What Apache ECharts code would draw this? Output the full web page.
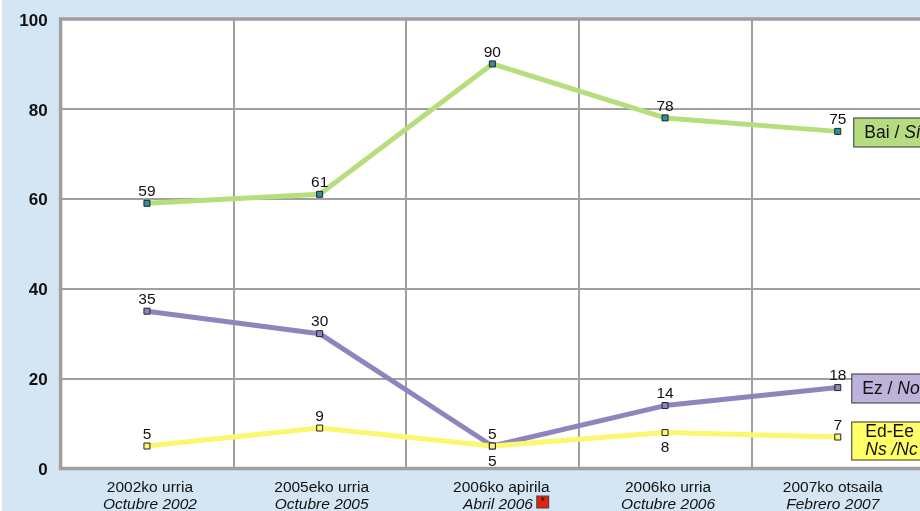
<!DOCTYPE html>
<html>
<head>
<meta charset="utf-8">
<style>
  html, body { margin: 0; padding: 0; background: #fff; overflow: hidden; }
  #chart { position: absolute; left: 2px; top: 0; width: 918px; height: 511px; }
</style>
<script src="https://cdn.jsdelivr.net/npm/echarts@6/dist/echarts.min.js"></script>
</head>
<body>
<div id="chart"></div>
<script>
const datesEu = ['2002ko urria', '2005eko urria', '2006ko apirila', '2006ko urria', '2007ko otsaila'];
const datesEs = ['Octubre 2002', 'Octubre 2005', 'Abril 2006', 'Octubre 2006', 'Febrero 2007'];
const yTicks = [0, 20, 40, 60, 80, 100];

const baiValues = [59, 61, 90, 78, 75];
const ezValues = [35, 30, 5, 14, 18];
const edValues = [5, 9, 5, 8, 7];
// yellow labels that sit under the point instead of over it
const edBelow = [2, 3];
// the original date labels are not centred on their points, px to the right
const dateShift = [3, 2, 9, 3, -5];

const font = '"Liberation Sans", Arial, sans-serif';
const chart = echarts.init(document.getElementById('chart'));

function makeSeries(name, values, color, markerColor, endLabel, below) {
    return {
        name: name,
        type: 'line',
        data: values.map((v, i) => ({
            value: v,
            label: below.includes(i)
                ? { position: 'bottom', distance: 4 }
                : { position: 'top', distance: 0 }
        })),
        symbol: 'rect',
        symbolSize: 6,
        itemStyle: { color: markerColor, borderColor: '#222', borderWidth: 1 },
        lineStyle: { color: color, width: 5 },
        label: {
            show: true,
            color: '#111',
            fontFamily: font,
            fontSize: 15.5
        },
        endLabel: endLabel
    };
}

// legend box glued to the last point, runs off the right edge like the original
function boxLabel(text, fill, dist, dy, padding) {
    return {
        show: true,
        formatter: text,
        distance: dist,
        offset: [0, dy],
        align: 'left',
        verticalAlign: 'middle',
        padding: padding,
        backgroundColor: fill,
        borderColor: '#333',
        borderWidth: 1,
        color: '#111',
        fontFamily: font,
        fontSize: 17.5,
        lineHeight: 18,
        rich: {
            it: { fontStyle: 'italic', fontFamily: font, fontSize: 17.5, lineHeight: 18, color: '#111' }
        }
    };
}

const option = {
    animation: false,
    backgroundColor: '#d4e6f4',
    grid: {
        show: true,
        outerBoundsMode: 'none',
        left: 58.6,
        top: 19,
        width: 863.5,
        height: 449.5,
        backgroundColor: '#fff',
        borderColor: '#a0a0a0',
        borderWidth: 3.5
    },
    xAxis: {
        type: 'category',
        data: datesEu.map((d, i) => ({
            value: d,
            textStyle: {
                padding: dateShift[i] > 0 ? [0, 0, 0, dateShift[i] * 2] : [0, -dateShift[i] * 2, 0, 0]
            }
        })),
        boundaryGap: true,
        axisLine: { show: false },
        axisTick: { show: false },
        splitLine: { show: true, interval: 0, lineStyle: { color: '#a0a0a0', width: 2 } },
        axisLabel: {
            interval: 0,
            margin: 11,
            color: '#111',
            fontFamily: font,
            fontSize: 15.5,
            lineHeight: 17,
            formatter: function (value, i) {
                let es = '{it|' + datesEs[i] + '}';
                if (i === 2) es = '  ' + es + ' {star|*}';
                return value + '\n' + es;
            },
            rich: {
                it: { fontStyle: 'italic', fontFamily: font, fontSize: 15.5, lineHeight: 17, color: '#111' },
                star: {
                    backgroundColor: '#e0230f',
                    borderColor: '#444',
                    borderWidth: 1,
                    width: 11,
                    height: 11,
                    align: 'center',
                    verticalAlign: 'top',
                    fontSize: 11,
                    lineHeight: 12,
                    color: '#111',
                    fontFamily: font
                }
            }
        }
    },
    yAxis: {
        type: 'value',
        min: 0,
        max: 100,
        interval: 20,
        axisLine: { show: false },
        axisTick: { show: false },
        splitLine: { show: true, lineStyle: { color: '#a0a0a0', width: 2 } },
        axisLabel: {
            margin: 13,
            color: '#111',
            fontFamily: font,
            fontSize: 17,
            fontWeight: 'bold',
            customValues: yTicks,
            formatter: '{v|{value}}',
            rich: {
                v: {
                    padding: [4, 0, 0, 0],
                    color: '#111',
                    fontFamily: font,
                    fontSize: 17,
                    fontWeight: 'bold'
                }
            }
        }
    },
    series: [
        makeSeries('Bai', baiValues, '#b6de7c', '#2f8ea0', boxLabel('Bai / {it|Sí}', '#b5dc80', 16.5, 1, [6, 60, 4, 10]), []),
        makeSeries('Ez', ezValues, '#8f84bc', '#8f84bc', boxLabel('Ez / {it|No}', '#bdb2da', 14.5, 1, [6, 60, 4, 10]), []),
        makeSeries('Ed-Ee', edValues, '#fbf76e', '#fbf76e', boxLabel('Ed-Ee\n{it|Ns /Nc}', '#ffff66', 14.5, 4, [1, 40, 0, 13]), edBelow)
    ]
};
chart.setOption(option);
</script>
</body>
</html>
